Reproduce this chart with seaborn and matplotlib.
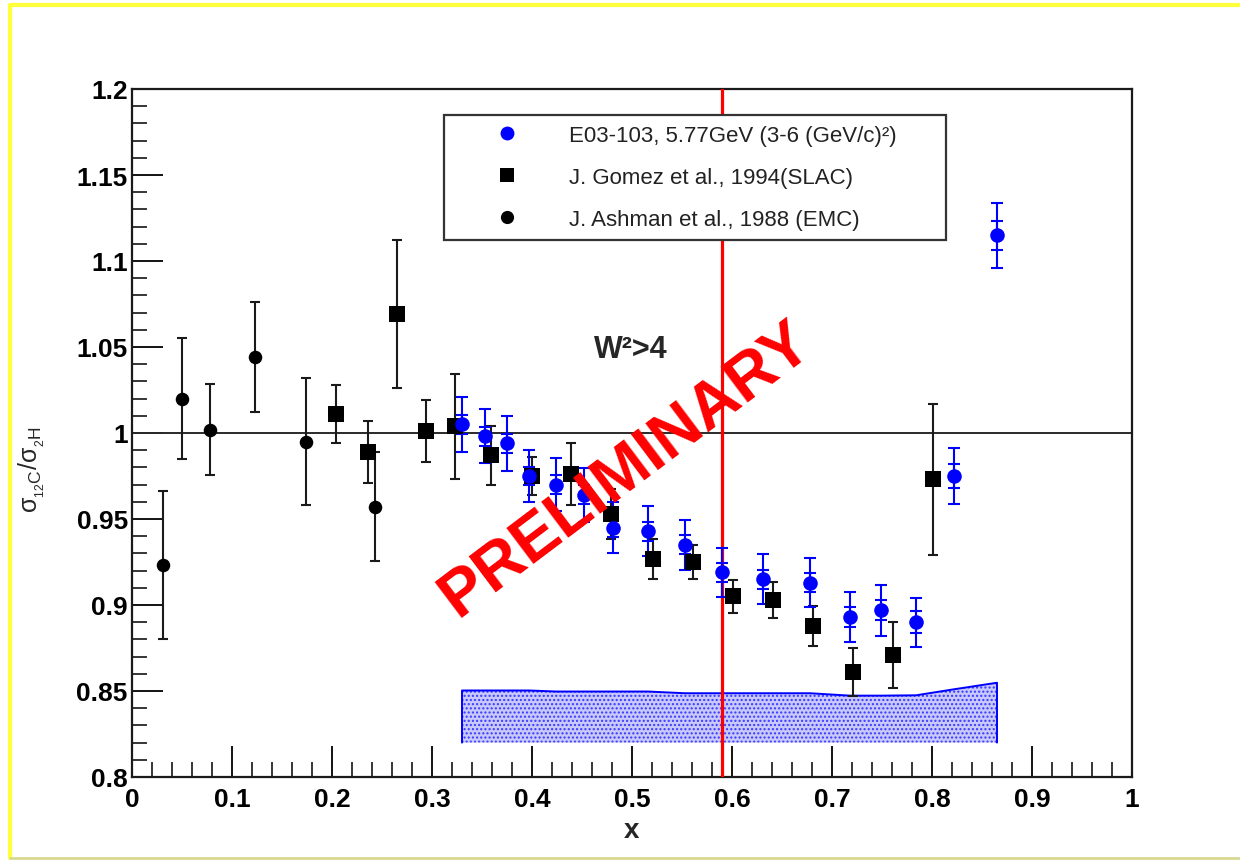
import numpy as np
import pandas as pd
import matplotlib
matplotlib.use("Agg")
import matplotlib.pyplot as plt
import seaborn as sns
from matplotlib.lines import Line2D
from matplotlib.ticker import MultipleLocator

# ---------------- data ----------------
e03_x = [0.330, 0.353, 0.375, 0.397, 0.424, 0.452, 0.481, 0.516, 0.553, 0.590,
         0.631, 0.678, 0.718, 0.749, 0.784, 0.822, 0.865]
e03_y = [1.005, 0.998, 0.994, 0.975, 0.970, 0.964, 0.945, 0.943, 0.935, 0.919,
         0.915, 0.913, 0.893, 0.897, 0.890, 0.975, 1.115]
e03_tot = [0.016, 0.0157, 0.016, 0.0153, 0.0155, 0.0155, 0.0148, 0.0147, 0.0147, 0.0143,
           0.0145, 0.0143, 0.0148, 0.0148, 0.0143, 0.0164, 0.019]
e03_stat = [0.0055, 0.0055, 0.0055, 0.0055, 0.0055, 0.0055, 0.0055, 0.0055, 0.0055, 0.0055,
            0.0055, 0.0055, 0.006, 0.006, 0.0065, 0.007, 0.0085]
e03_syst_top = [0.8503, 0.8503, 0.8503, 0.8503, 0.8497, 0.8497, 0.8497, 0.8497, 0.8487, 0.8487,
                0.8487, 0.8487, 0.8473, 0.8473, 0.8475, 0.8510, 0.8548]
band_base = 0.82

slac_x = [0.204, 0.236, 0.265, 0.294, 0.323, 0.359, 0.400, 0.439, 0.479, 0.521,
          0.561, 0.601, 0.641, 0.681, 0.721, 0.761, 0.801]
slac_y = [1.011, 0.989, 1.069, 1.001, 1.004, 0.987, 0.975, 0.976, 0.953, 0.9265,
          0.925, 0.905, 0.903, 0.888, 0.861, 0.871, 0.973]
slac_err = [0.017, 0.018, 0.043, 0.018, 0.0305, 0.017, 0.011, 0.018, 0.0145, 0.0116,
            0.0097, 0.0094, 0.0103, 0.0116, 0.014, 0.019, 0.044]

emc_x = [0.031, 0.050, 0.078, 0.123, 0.174, 0.243]
emc_y = [0.923, 1.020, 1.002, 1.044, 0.995, 0.957]
emc_err = [0.043, 0.035, 0.0265, 0.032, 0.037, 0.0317]

x_ticks = [0, 0.1, 0.2, 0.3, 0.4, 0.5, 0.6, 0.7, 0.8, 0.9, 1.0]
x_tick_labels = ["0", "0.1", "0.2", "0.3", "0.4", "0.5", "0.6", "0.7", "0.8", "0.9", "1"]
y_ticks = [0.8, 0.85, 0.9, 0.95, 1.0, 1.05, 1.1, 1.15, 1.2]
y_tick_labels = ["0.8", "0.85", "0.9", "0.95", "1", "1.05", "1.1", "1.15", "1.2"]

series_labels = ["E03-103, 5.77GeV (3-6 (GeV/c)²)",
                 "J. Gomez et al., 1994(SLAC)",
                 "J. Ashman et al., 1988 (EMC)"]
w2_cut_x = 0.59
# --------------------------------------

sns.set_theme(style="ticks")
plt.rcParams["font.family"] = ["Liberation Sans", "DejaVu Sans"]
plt.rcParams["mathtext.fontset"] = "custom"
plt.rcParams["mathtext.rm"] = "Liberation Sans"
plt.rcParams["mathtext.it"] = "Liberation Sans:italic"
plt.rcParams["mathtext.bf"] = "Liberation Sans:bold"
plt.rcParams["hatch.linewidth"] = 1.0

W, H = 1240, 862
fig = plt.figure(figsize=(W / 100, H / 100), dpi=100)
fig.patch.set_facecolor("white")
ax = fig.add_axes([132 / W, 1 - 778 / H, 1000 / W, 688 / H])
ax.set_facecolor("white")

e03 = pd.DataFrame({"x": e03_x, "y": e03_y})
slac = pd.DataFrame({"x": slac_x, "y": slac_y})
emc = pd.DataFrame({"x": emc_x, "y": emc_y})

# systematic band
ax.fill_between(e03_x, band_base, e03_syst_top, facecolor="#c8c8fb",
                edgecolor="#3838ff", hatch="....", linewidth=0, zorder=2)
ax.plot([e03_x[0]] + e03_x + [e03_x[-1]],
        [band_base] + e03_syst_top + [band_base],
        color="blue", lw=1.4, zorder=2.5)

# reference lines
ax.axhline(1.0, color="#2a2a2a", lw=1.4, zorder=1)
ax.axvline(w2_cut_x, color="red", lw=2.3, zorder=3)

# error bars
ax.errorbar(slac_x, slac_y, yerr=slac_err, fmt="none", ecolor="#1a1a1a",
            elinewidth=1.5, capsize=3.5, capthick=1.5, zorder=4)
ax.errorbar(emc_x, emc_y, yerr=emc_err, fmt="none", ecolor="#1a1a1a",
            elinewidth=1.5, capsize=3.5, capthick=1.5, zorder=4)
ax.errorbar(e03_x, e03_y, yerr=e03_tot, fmt="none", ecolor="blue",
            elinewidth=1.5, capsize=4, capthick=1.5, zorder=5)
ax.errorbar(e03_x, e03_y, yerr=e03_stat, fmt="none", ecolor="blue",
            elinewidth=1.5, capsize=4, capthick=1.5, zorder=5)

# markers via seaborn
sns.scatterplot(data=slac, x="x", y="y", ax=ax, color="black", marker="s",
                s=120, linewidth=0, zorder=6)
sns.scatterplot(data=emc, x="x", y="y", ax=ax, color="black", marker="o",
                s=95, linewidth=0, zorder=6)
sns.scatterplot(data=e03, x="x", y="y", ax=ax, color="blue", marker="o",
                s=110, linewidth=0, zorder=7)

ax.set_xlim(0, 1)
ax.set_ylim(0.8, 1.2)
ax.set_xticks(x_ticks, x_tick_labels)
ax.set_yticks(y_ticks, y_tick_labels)
ax.xaxis.set_minor_locator(MultipleLocator(0.02))
ax.yaxis.set_minor_locator(MultipleLocator(0.01))
ax.tick_params(which="major", direction="in", length=22, width=1.3,
               labelsize=19, top=False, right=False, colors="black")
ax.tick_params(which="minor", direction="in", length=11, width=1.3,
               top=False, right=False)
ax.tick_params(axis="x", which="major", pad=7)
ax.tick_params(axis="y", which="major", pad=3)
for lab in ax.get_xticklabels() + ax.get_yticklabels():
    lab.set_fontweight("bold")
for sp in ax.spines.values():
    sp.set_linewidth(1.6)
    sp.set_color("#1a1a1a")
    sp.set_visible(True)

ax.set_xlabel("x", fontsize=20, fontweight="bold")
ax.xaxis.set_label_coords(0.5, -0.058)
ax.set_ylabel(r"$\mathregular{σ_{{}_{12}C}/σ_{{}_{2}H}}$", fontsize=18)
ax.yaxis.set_label_coords(-0.085, 0.448)

ax.text(0.4985, 1.049, "W²>4", fontsize=22, fontweight="bold",
        ha="center", va="center", zorder=8)
ax.text(0.4945, 0.979, "PRELIMINARY", fontsize=47, fontweight="bold",
        color="red", rotation=37, rotation_mode="anchor",
        ha="center", va="center", zorder=10)

handles = [
    Line2D([], [], linestyle="none", marker="o", color="blue", markersize=10, markeredgewidth=0),
    Line2D([], [], linestyle="none", marker="s", color="black", markersize=10.5, markeredgewidth=0),
    Line2D([], [], linestyle="none", marker="o", color="black", markersize=9.5, markeredgewidth=0),
]
leg = ax.legend(handles, series_labels, loc="upper left",
                bbox_to_anchor=(444 / W, 0.3, 502 / W, 1 - 115.7 / H - 0.3),
                bbox_transform=fig.transFigure, mode="expand", borderaxespad=0,
                fontsize=16, frameon=True, fancybox=False, framealpha=1,
                edgecolor="#333333", borderpad=0.45, labelspacing=0.95,
                handlelength=4.75, handletextpad=0.43, labelcolor="#222222")
leg.get_frame().set_linewidth(1.6)
leg.set_zorder(9)

# yellow frame of the canvas
fig.add_artist(Line2D([10 / W, 1.0], [1 - 6 / H, 1 - 6 / H], color="#ffff3c",
                      lw=3, transform=fig.transFigure))
fig.add_artist(Line2D([10 / W, 10 / W], [1 - 6 / H, 3 / H], color="#ffff3c",
                      lw=3, transform=fig.transFigure))
fig.add_artist(Line2D([10 / W, 1.0], [3 / H, 3 / H], color="#d8d890",
                      lw=2, transform=fig.transFigure))

fig.savefig("out.png", dpi=100)
